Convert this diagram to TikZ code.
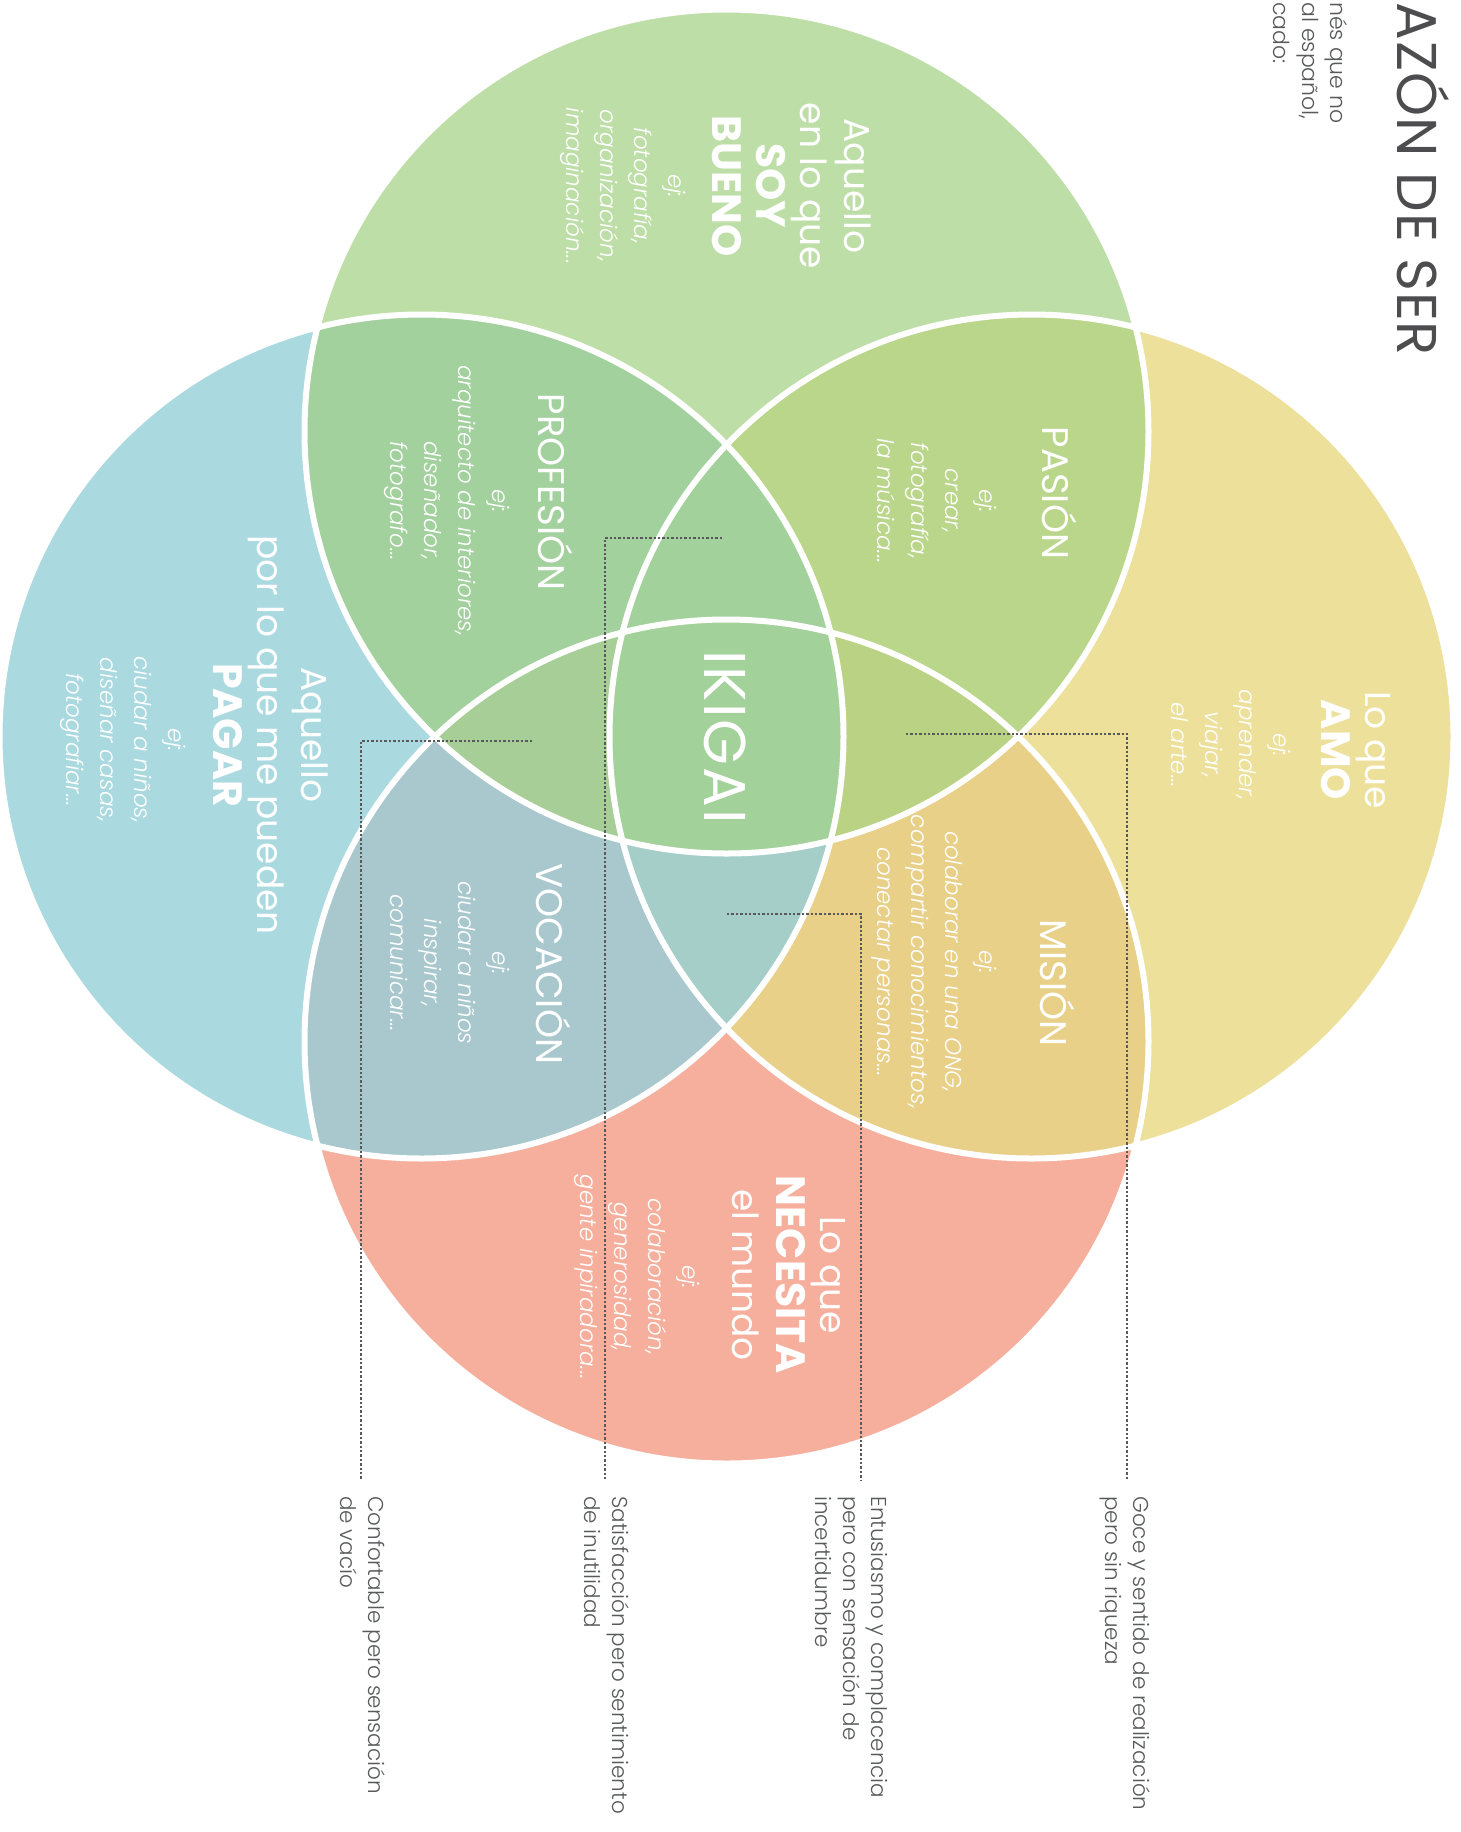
\documentclass[tikz,border=0pt]{standalone}
\usepackage{fontspec}
\setmainfont{Poppins}
\newfontfamily\lightfont{Poppins Light}[ItalicFont={Poppins Light Italic}]

\definecolor{buenofill}{HTML}{BEDEA8}
\definecolor{pagarfill}{HTML}{ABD9E0}
\definecolor{amofill}{HTML}{ECE09B}
\definecolor{mundofill}{HTML}{F6AF9D}
\definecolor{profesionfill}{HTML}{A3D19E}
\definecolor{pasionfill}{HTML}{BAD68B}
\definecolor{misionfill}{HTML}{E9D089}
\definecolor{vocacionfill}{HTML}{A9C8CD}
\definecolor{leftlensfill}{HTML}{A7CE97}
\definecolor{rightlensfill}{HTML}{BAD283}
\definecolor{toplensfill}{HTML}{A3D19C}
\definecolor{bottomlensfill}{HTML}{A5CEC9}
\definecolor{ikigaifill}{HTML}{A3D19A}
\definecolor{notegray}{HTML}{58595B}
\definecolor{titlegray}{HTML}{4D4D4F}

\newcommand{\rad}{422}
\newcommand{\headfont}{\fontsize{36}{44}\selectfont}
\newcommand{\headbold}{\fontsize{41}{44}\selectfont\bfseries}
\newcommand{\exfont}{\lightfont\itshape\fontsize{23}{34}\selectfont}
\newcommand{\zonefont}{\fontsize{37}{44}\selectfont}
\newcommand{\ikigaifont}{\fontsize{59}{60}\selectfont\addfontfeature{LetterSpace=3}}
\newcommand{\titlefont}{\fontsize{56}{60}\selectfont\addfontfeature{LetterSpace=1.8}}
\newcommand{\subfont}{\lightfont\fontsize{22}{29}\selectfont}
\newcommand{\notefont}{\lightfont\fontsize{21.5}{28}\selectfont}

\begin{document}
\begin{tikzpicture}[x=1pt, y=-1pt,
  ring/.style={draw=white, line width=6pt},
  leader/.style={draw=notegray, line width=2.4pt, dotted},
  headtext/.style={rotate=-90, anchor=base, align=center, inner sep=0pt, text=white, font=\headfont},
  extext/.style={rotate=-90, anchor=base, align=center, inner sep=0pt, text=white, font=\exfont},
  zonetext/.style={rotate=-90, anchor=base, inner sep=0pt, text=white, font=\zonefont},
  notetext/.style={rotate=-90, anchor=base west, inner xsep=16pt, inner ysep=0pt, text=notegray, font=\notefont},
  subtext/.style={rotate=-90, anchor=base west, inner sep=0pt, text=notegray, font=\subfont}]

\useasboundingbox (0,0) rectangle (1461,1832);

\coordinate (cbueno) at (726.5,431.5);
\coordinate (cpagar) at (421.5,736.5);
\coordinate (camo) at (1031.5,736.5);
\coordinate (cmundo) at (726.5,1041.5);

% the four circles
\fill[buenofill] (cbueno) circle (\rad);
\fill[pagarfill] (cpagar) circle (\rad);
\fill[amofill] (camo) circle (\rad);
\fill[mundofill] (cmundo) circle (\rad);

% overlaps of two
\begin{scope}
\clip (cbueno) circle (\rad);
\fill[profesionfill] (cpagar) circle (\rad);
\fill[pasionfill] (camo) circle (\rad);
\end{scope}
\begin{scope}
\clip (cmundo) circle (\rad);
\fill[vocacionfill] (cpagar) circle (\rad);
\fill[misionfill] (camo) circle (\rad);
\end{scope}

% lenses and centre
\begin{scope}
\clip (cbueno) circle (\rad);
\clip (cmundo) circle (\rad);
\fill[leftlensfill] (cpagar) circle (\rad);
\fill[rightlensfill] (camo) circle (\rad);
\end{scope}
\begin{scope}
\clip (cpagar) circle (\rad);
\clip (camo) circle (\rad);
\fill[toplensfill] (cbueno) circle (\rad);
\fill[bottomlensfill] (cmundo) circle (\rad);
\clip (cbueno) circle (\rad);
\fill[ikigaifill] (cmundo) circle (\rad);
\end{scope}

\foreach \c in {cbueno,cpagar,camo,cmundo}
  \draw[ring] (\c) circle (\rad);

% title
\node[rotate=-90, anchor=base east, inner sep=0pt, text=titlegray, font=\titlefont] (titulo) at (1397,356) {AZÓN DE SER};
\node[subtext] (sub1) at (1330,2) {nés que no};
\node[subtext] (sub2) at (1302,2) {al español,};
\node[subtext] (sub3) at (1273,2) {cado:};

% circle texts (anchored at the last line)
\node[headtext] (buenohead) at (712,186) {Aquello\\en lo que\\{\headbold SOY}\\{\headbold BUENO}};
\node[extext] (buenoex) at (566,186) {ej:\\fotografía,\\organización,\\imaginación...};

\node[headtext] (pagarhead) at (213,735) {Aquello\\por lo que me pueden\\{\headbold PAGAR}};
\node[extext] (pagarex) at (66,740) {ej:\\ciudar a niños,\\diseñar casas,\\fotografiar...};

\node[headtext] (amohead) at (1321,750) {Lo que\\{\headbold AMO}};
\node[extext] (amoex) at (1171,745) {ej:\\aprender,\\viajar,\\el arte...};

\node[headtext] (mundohead) at (732,1275) {Lo que\\{\headbold NECESITA}\\el mundo};
\node[extext] (mundoex) at (580,1277) {ej:\\colaboración,\\generosidad,\\gente inpiradora...};

% overlap texts
\node[zonetext] (profesion) at (538,492) {PROFESIÓN};
\node[extext] (profesionex) at (390,501) {ej:\\arquitecto de interiores,\\diseñador,\\fotografo...};
\node[zonetext] (pasion) at (1042,493) {PASIÓN};
\node[extext] (pasionex) at (877,501) {ej:\\crear,\\fotografía,\\la música...};
\node[zonetext] (vocacion) at (536,964) {VOCACIÓN};
\node[extext] (vocacionex) at (390,963) {ej:\\ciudar a niños\\inspirar,\\comunicar...};
\node[zonetext] (mision) at (1040,983) {MISIÓN};
\node[extext] (misionex) at (877,962) {ej:\\colaborar en una ONG,\\compartir conocimientos,\\conectar personas...};
\node[zonetext, font=\ikigaifont] (ikigai) at (704,737) {IKIGAI};

% notes and leaders
\node[notetext] (goce) at (1133,1480) {\begin{tabular}[t]{@{}l@{}}Goce y sentido de realización\\pero sin riqueza\end{tabular}};
\node[notetext] (entus) at (871,1480) {\begin{tabular}[t]{@{}l@{}}Entusiasmo y complacencia\\pero con sensación de\\incertidumbre\end{tabular}};
\node[notetext] (satis) at (612,1480) {\begin{tabular}[t]{@{}l@{}}Satisfacción pero sentimiento\\de inutilidad\end{tabular}};
\node[notetext] (confort) at (368,1480) {\begin{tabular}[t]{@{}l@{}}Confortable pero sensación\\de vacío\end{tabular}};

\coordinate (gocefrom) at (906,734);
\coordinate (entusfrom) at (727,914);
\coordinate (satisfrom) at (722,538);
\coordinate (confortfrom) at (532,741);

\draw[leader] (gocefrom) -| ([xshift=-6pt]goce.base west);
\draw[leader] (entusfrom) -| ([xshift=-10pt]entus.base west);
\draw[leader] (satisfrom) -| ([xshift=-7pt]satis.base west);
\draw[leader] (confortfrom) -| ([xshift=-7pt]confort.base west);

\end{tikzpicture}
\end{document}
